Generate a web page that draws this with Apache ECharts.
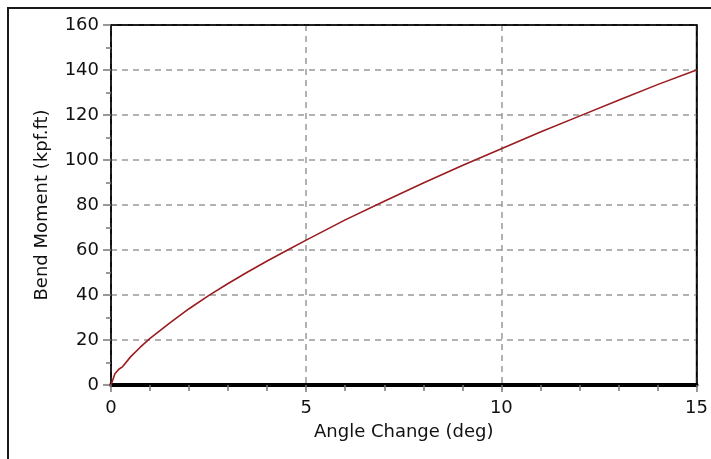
<!DOCTYPE html>
<html>
<head>
<meta charset="utf-8">
<script src="https://cdn.jsdelivr.net/npm/echarts@6/dist/echarts.min.js"></script>
<style>
html,body{margin:0;padding:0;background:#fff;}
#chart{width:711px;height:459px;}
</style>
</head>
<body>
<div id="chart"></div>
<script>
// Angle change (deg) and bend moment (kpf.ft)
var angleDeg = [0, 0.1, 0.2, 0.3, 0.5, 0.75, 1, 1.5, 2, 2.5, 3, 3.5, 4, 4.5, 5, 6, 7, 8, 9, 10, 11, 12, 13, 14, 15];
var bendMoment = [0, 5, 7, 8.2, 12.5, 16.8, 20.7, 27.5, 33.9, 39.7, 45.1, 50.2, 55.1, 59.8, 64.4, 73.4, 81.7, 89.8, 97.6, 105, 112.4, 119.5, 126.6, 133.5, 140];
var xTicks = [0, 5, 10, 15];
var yTicks = [0, 20, 40, 60, 80, 100, 120, 140, 160];

var seriesData = angleDeg.map(function (a, i) { return [a, bendMoment[i]]; });
var font = 'DejaVu Sans';
var xMin = xTicks[0], xMax = xTicks[xTicks.length - 1];
var yMin = yTicks[0], yMax = yTicks[yTicks.length - 1];
var chart = echarts.init(document.getElementById('chart'));
chart.setOption({
  backgroundColor: '#fff',
  animation: false,
  graphic: [{
    type: 'rect',
    shape: { x: 8, y: 8, width: 800, height: 600 },
    style: { fill: 'none', stroke: '#1a1a1a', lineWidth: 2 },
    z: 0
  }],
  grid: {
    left: 111, top: 25, right: 12, bottom: 74,
    show: true, borderColor: '#000', borderWidth: 1.5, backgroundColor: '#fff'
  },
  xAxis: [{
    type: 'value',
    min: xMin, max: xMax, interval: 5,
    name: 'Angle Change (deg)', nameLocation: 'middle', nameGap: 38,
    nameTextStyle: { fontFamily: font, fontSize: 18, color: '#111' },
    axisLine: { show: true, onZero: false, lineStyle: { color: '#000', width: 4 } },
    axisTick: { show: true, length: 7, lineStyle: { color: '#777', width: 1.5 } },
    minorTick: { show: true, splitNumber: 5, length: 6, lineStyle: { color: '#777', width: 1.5 } },
    axisLabel: { fontFamily: font, fontSize: 18, color: '#111', margin: 14 },
    splitLine: { show: true, lineStyle: { color: '#999', type: [6, 5], width: 1.5 } }
  }, {
    type: 'value', position: 'top',
    min: xMin, max: xMax, interval: 5,
    axisLine: { show: true, onZero: false, lineStyle: { color: '#000', width: 1.5 } },
    axisTick: { show: false }, axisLabel: { show: false }, splitLine: { show: false }
  }],
  yAxis: [{
    type: 'value',
    min: yMin, max: yMax, interval: 20,
    name: 'Bend Moment (kpf.ft)', nameLocation: 'middle', nameGap: 60,
    nameTextStyle: { fontFamily: font, fontSize: 18, color: '#111' },
    axisLine: { show: true, lineStyle: { color: '#000', width: 1.5 } },
    axisTick: { show: true, length: 8, lineStyle: { color: '#777', width: 1.5 } },
    minorTick: { show: true, splitNumber: 2, length: 5, lineStyle: { color: '#777', width: 1.5 } },
    axisLabel: { fontFamily: font, fontSize: 18, color: '#111', margin: 12 },
    splitLine: { show: true, lineStyle: { color: '#999', type: [6, 5], width: 1.5 } }
  }, {
    type: 'value', position: 'right',
    min: yMin, max: yMax, interval: 20,
    axisLine: { show: true, onZero: false, lineStyle: { color: '#000', width: 1.5 } },
    axisTick: { show: false }, axisLabel: { show: false }, splitLine: { show: false }
  }],
  series: [{
    type: 'line',
    xAxisIndex: 0, yAxisIndex: 0,
    data: seriesData,
    symbol: 'none',
    smooth: false,
    lineStyle: { color: '#9a1b20', width: 1.6 },
    z: 3
  }]
});
</script>
</body>
</html>
